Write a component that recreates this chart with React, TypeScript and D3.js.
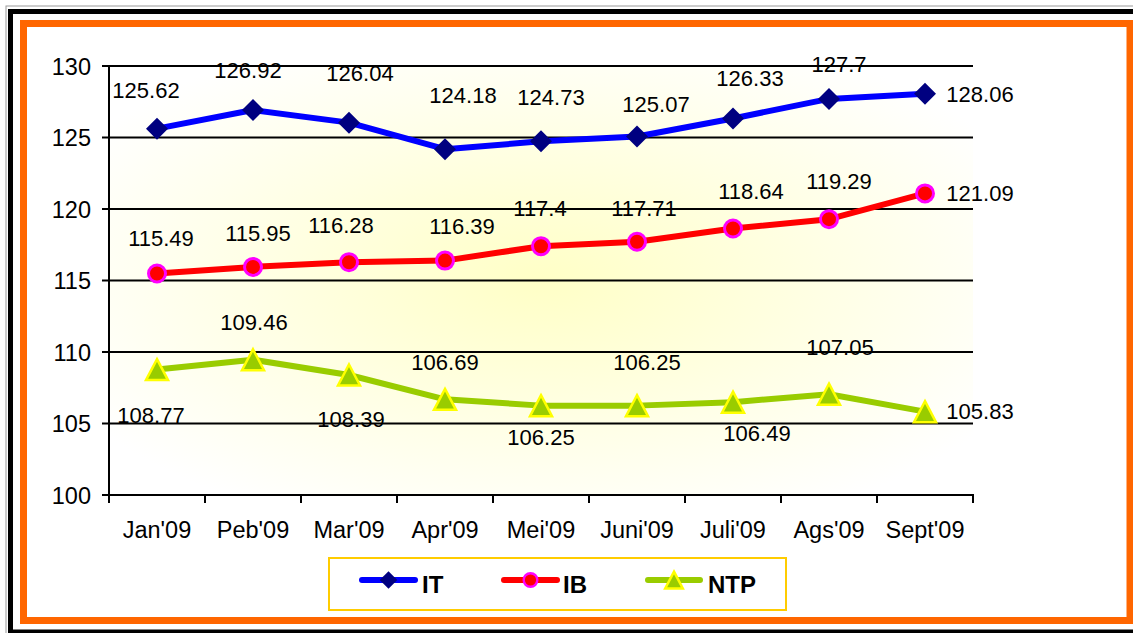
import React, { useEffect } from "react";
import * as d3 from "d3";

const categories = ["Jan'09", "Peb'09", "Mar'09", "Apr'09", "Mei'09", "Juni'09", "Juli'09", "Ags'09", "Sept'09"];
const itValues = [125.62, 126.92, 126.04, 124.18, 124.73, 125.07, 126.33, 127.7, 128.06];
const ibValues = [115.49, 115.95, 116.28, 116.39, 117.4, 117.71, 118.64, 119.29, 121.09];
const ntpValues = [108.77, 109.46, 108.39, 106.69, 106.25, 106.25, 106.49, 107.05, 105.83];
const yTicks = [100, 105, 110, 115, 120, 125, 130];
const seriesNames = ["IT", "IB", "NTP"];

// label placement offsets (pixels relative to the point)
const itLabelOffsets: [number, number][] = [[-11, -38], [-5, -40], [11, -49], [18, -54], [10, -44], [19, -32], [17, -40], [10, -34.5], [55, 0]];
const ibLabelOffsets: [number, number][] = [[4, -35], [5, -33.5], [-8, -37], [17, -34], [-1, -38], [7, -34], [18, -37], [10, -38], [55, 0]];
const ntpLabelOffsets: [number, number][] = [[-6, 46], [1, -38], [2, 44], [0, -37], [0, 32], [10, -43], [24, 31], [11, -47], [55, 0]];

const W = 1133;
const H = 633;
const plot = { left: 109, right: 973, top: 66, bottom: 495 };
const FONT = "'Liberation Sans', Arial, sans-serif";

const diamond = (s: number) => `M0,${-s}L${s},0L0,${s}L${-s},0Z`;
const triangle = (s: number) => `M0,${-s}L${s * 1.05},${s}L${-s * 1.05},${s}Z`;

export default function App() {
  useEffect(() => {
    document.body.style.margin = "0";
  }, []);

  const x = d3.scaleBand<string>().domain(categories).range([plot.left, plot.right]).padding(0);
  const y = d3.scaleLinear().domain([100, 130]).range([plot.bottom, plot.top]);
  const cx = (c: string) => (x(c) as number) + x.bandwidth() / 2;

  const line = d3
    .line<number>()
    .x((_, i) => cx(categories[i]))
    .y((v) => y(v));

  const series = [
    { name: seriesNames[0], values: itValues, offsets: itLabelOffsets, color: "#0000FF" },
    { name: seriesNames[1], values: ibValues, offsets: ibLabelOffsets, color: "#FF0000" },
    { name: seriesNames[2], values: ntpValues, offsets: ntpLabelOffsets, color: "#99CC00" },
  ];

  const marker = (name: string, scale: number) => {
    if (name === "IT") return <path d={diamond(11 * scale)} fill="#000080" />;
    if (name === "IB") return <circle r={8.5 * scale} fill="#FF0000" stroke="#FF00FF" strokeWidth={3 * scale} />;
    return <path d={triangle(10.5 * scale)} fill="#99CC00" stroke="#FFFF00" strokeWidth={2.5} strokeLinejoin="miter" />;
  };

  const legendItems = [
    { name: "IT", color: "#0000FF", x1: 359, x2: 418, tx: 422 },
    { name: "IB", color: "#FF0000", x1: 501, x2: 560, tx: 563 },
    { name: "NTP", color: "#99CC00", x1: 645, x2: 703, tx: 708 },
  ];

  return (
    <svg width={W} height={H} style={{ position: "fixed", left: 0, top: 0, display: "block" }} fontFamily={FONT}>
      <defs>
        <radialGradient id="bg" cx="0.5" cy="0.5" r="0.62">
          <stop offset="0" stopColor="#FFFFC6" />
          <stop offset="0.55" stopColor="#FFFFE6" />
          <stop offset="1" stopColor="#FFFFFF" />
        </radialGradient>
      </defs>
      <rect x={0} y={0} width={W} height={H} fill="#FFFFFF" />
      {/* frames */}
      <rect x={6} y={6} width={W + 20} height={H + 20} fill="none" stroke="#9a9a9a" strokeWidth={1} />
      <rect x={10.5} y={11.5} width={W + 20} height={620.5} fill="none" stroke="#000000" strokeWidth={5} />
      <rect x={23.5} y={23.5} width={1106.5} height={597} fill="#FFFFFF" stroke="#FF6600" strokeWidth={7} />

      {/* plot background */}
      <rect x={plot.left} y={plot.top} width={plot.right - plot.left} height={plot.bottom - plot.top} fill="url(#bg)" />

      {/* gridlines */}
      {yTicks.map((t) => (
        <line key={"g" + t} x1={plot.left} x2={plot.right} y1={y(t)} y2={y(t)} stroke="#000" strokeWidth={2} />
      ))}
      {/* y axis */}
      <line x1={plot.left} x2={plot.left} y1={plot.top - 1} y2={plot.bottom + 1} stroke="#000" strokeWidth={2} />
      {yTicks.map((t) => (
        <g key={"yt" + t}>
          <line x1={plot.left - 7} x2={plot.left} y1={y(t)} y2={y(t)} stroke="#000" strokeWidth={2} />
          <text x={91} y={y(t) + 8.5} textAnchor="end" fontSize={23.5} fill="#000">
            {t}
          </text>
        </g>
      ))}
      {/* x axis */}
      <line x1={plot.left} x2={plot.right + 1} y1={plot.bottom} y2={plot.bottom} stroke="#000" strokeWidth={2} />
      {categories.map((c) => (
        <line key={"xt" + c} x1={x(c)} x2={x(c)} y1={plot.bottom} y2={plot.bottom + 8} stroke="#000" strokeWidth={2} />
      ))}
      <line x1={plot.right} x2={plot.right} y1={plot.bottom} y2={plot.bottom + 8} stroke="#000" strokeWidth={2} />
      {categories.map((c) => (
        <text key={"xl" + c} x={cx(c)} y={538} textAnchor="middle" fontSize={23.5} fill="#000">
          {c}
        </text>
      ))}

      {/* series lines */}
      {series.map((s) => (
        <path key={"l" + s.name} d={line(s.values) || ""} fill="none" stroke={s.color} strokeWidth={6} strokeLinejoin="round" />
      ))}
      {/* markers */}
      {series.map((s) =>
        s.values.map((v, i) => (
          <g key={"m" + s.name + i} transform={`translate(${cx(categories[i])},${y(v)})`}>
            {marker(s.name, 1)}
          </g>
        ))
      )}
      {/* data labels */}
      {series.map((s) =>
        s.values.map((v, i) => (
          <text
            key={"d" + s.name + i}
            x={cx(categories[i]) + s.offsets[i][0]}
            y={y(v) + s.offsets[i][1] + 7.8}
            textAnchor="middle"
            fontSize={22}
            fill="#000"
          >
            {String(v)}
          </text>
        ))
      )}

      {/* legend */}
      <rect x={329} y={558} width={457} height={52} fill="#FFFFFF" stroke="#FFCC00" strokeWidth={2} />
      {legendItems.map((l) => (
        <g key={"lg" + l.name}>
          <line x1={l.x1 + 3} x2={l.x2 - 3} y1={580} y2={580} stroke={l.color} strokeWidth={6} strokeLinecap="round" />
          <g transform={`translate(${(l.x1 + l.x2) / 2},580)`}>{marker(l.name, 0.8)}</g>
          <text x={l.tx} y={593} fontSize={24} fontWeight="bold" fill="#000">
            {l.name}
          </text>
        </g>
      ))}
    </svg>
  );
}
